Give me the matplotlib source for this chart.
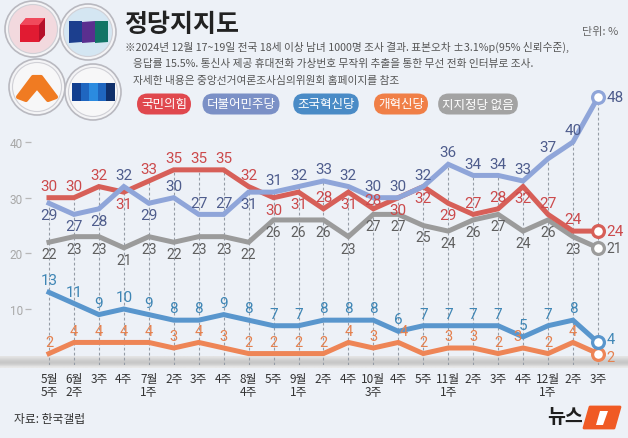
import matplotlib
matplotlib.use('Agg')
import matplotlib.pyplot as plt
import numpy as np
from matplotlib.patches import Circle, Polygon, Rectangle

plt.rcParams['font.family'] = ['Noto Sans CJK KR', 'DejaVu Sans']

# ---------------- data ----------------
weeks = ['5월\n5주', '6월\n2주', '3주', '4주', '7월\n1주', '2주', '3주', '4주',
         '8월\n4주', '5주', '9월\n1주', '2주', '4주', '10월\n3주', '4주', '5주',
         '11월\n1주', '2주', '3주', '4주', '12월\n1주', '2주', '3주']
parties = ['국민의힘', '더불어민주당', '조국혁신당', '개혁신당', '지지정당 없음']
ppp = [30, 30, 32, 31, 33, 35, 35, 35, 32, 30, 31, 28, 31, 28, 30, 32, 29, 27, 28, 32, 27, 24, 24]
dpk = [29, 27, 28, 32, 29, 30, 27, 27, 31, 31, 32, 33, 32, 30, 30, 32, 36, 34, 34, 33, 37, 40, 48]
rebuild = [13, 11, 9, 10, 9, 8, 8, 9, 8, 7, 7, 8, 8, 8, 6, 7, 7, 7, 7, 5, 7, 8, 4]
reform = [2, 4, 4, 4, 4, 3, 4, 3, 2, 2, 2, 2, 4, 3, 4, 2, 3, 3, 2, 3, 2, 4, 2]
no_party = [22, 23, 23, 21, 23, 22, 23, 23, 22, 26, 26, 26, 23, 27, 27, 25, 24, 26, 27, 24, 26, 23, 21]
yticks = [10, 20, 30, 40]

# label placement (1 above, -1 below, 0 right of end marker)
ppp_side = [1, 1, 1, -1, 1, 1, 1, 1, 1, -1, -1, 1, -1, 1, -1, -1, -1, 1, 1, -1, 1, 1, 0]
dpk_side = [-1, -1, -1, 1, -1, 1, 1, 1, -1, 1, 1, 1, 1, 1, 1, 1, 1, 1, 1, 1, 1, 1, 0]
n = len(weeks)
up_side = [1] * (n - 1) + [0]
down_side = [-1] * (n - 1) + [0]
# small nudges for crowded labels (points)
reform_dx = {14: 4, 19: -4}
ppp_dy = {13: 1.5}

BG = '#edf1f7'
W, H = 628, 439
fig = plt.figure(figsize=(W / 100, H / 100), dpi=100, facecolor=BG)

# decoration axes in pixel coordinates
deco = fig.add_axes([0, 0, 1, 1], zorder=0)
deco.set_xlim(0, W)
deco.set_ylim(H, 0)
deco.axis('off')

# bottom band (gradient)
grad = np.array([[0.89], [0.84], [0.79], [0.78], [0.83], [0.91]])
deco.imshow(np.repeat(grad, 2, axis=1), cmap='gray', vmin=0, vmax=1, aspect='auto',
            extent=(0, W, 369, 357), zorder=1, interpolation='bilinear')

# logos
def ring(cx, cy, inner):
    deco.add_patch(Circle((cx, cy), 28, facecolor='#f4f4f6', edgecolor='#b9b9c0', lw=1.2, zorder=2))
    deco.add_patch(Circle((cx, cy), 24.5, facecolor=inner, edgecolor='#d0d0d6', lw=0.8, zorder=2))

ring(33, 30, '#f2d9de')
deco.add_patch(Polygon([(20, 26), (26, 19), (45, 19), (45, 36), (39, 43), (20, 43)],
                       closed=True, facecolor='#e11b32', edgecolor='none', zorder=3))
deco.add_patch(Polygon([(20, 26), (26, 19), (45, 19), (39, 26)], closed=True,
                       facecolor='#f04a5c', edgecolor='none', zorder=4))
deco.add_patch(Polygon([(39, 26), (45, 19), (45, 36), (39, 43)], closed=True,
                       facecolor='#b5102a', edgecolor='none', zorder=4))

ring(88, 33, '#d4e6f2')
for k, c in enumerate(['#1c3f8e', '#5a2f8f', '#127566']):
    x0 = 69 + k * 13
    deco.add_patch(Polygon([(x0, 22 + (1 if k == 1 else 0)), (x0 + 13, 22), (x0 + 13, 43), (x0, 44)],
                           closed=True, facecolor=c, edgecolor='none', zorder=3))

ring(37, 88, '#f7f7f8')
deco.add_patch(Polygon([(18, 98), (33, 78), (41, 78), (56, 98), (48, 101), (37, 88), (26, 101)],
                       closed=True, facecolor='#f07b22', edgecolor='#f07b22', lw=3,
                       joinstyle='round', zorder=3))

ring(93, 93, '#f7f7f8')
for k, c in enumerate(['#123f8f', '#1f66c0', '#2b8be0', '#1f66c0', '#0f2f6a']):
    x0 = 72 + k * 8.6
    deco.add_patch(Rectangle((x0, 84), 8.6, 18, facecolor=c, edgecolor='none', zorder=3))

# title and notes
deco.text(124, 25, '정당지지도', fontsize=18, fontweight='bold', color='#222222',
          ha='left', va='center')
deco.text(618, 32, '단위: %', fontsize=8, color='#666666', ha='right', va='center')
notes = ['※2024년 12월 17~19일 전국 18세 이상 남녀 1000명 조사 결과. 표본오차 ±3.1%p(95% 신뢰수준),',
         '응답률 15.5%. 통신사 제공 휴대전화 가상번호 무작위 추출을 통한 무선 전화 인터뷰로 조사.',
         '자세한 내용은 중앙선거여론조사심의위원회 홈페이지를 참조']
for k, t in enumerate(notes):
    deco.text(125 if k == 0 else 133, 47 + 17 * k, t, fontsize=7.7, color='#555555',
              ha='left', va='center')

pill_colors = ['#e0484e', '#7b90c6', '#4a8bc6', '#f07f47', '#a3a3a3']
pill_x = [164, 241, 326, 401, 478]
for t, c, x in zip(parties, pill_colors, pill_x):
    deco.text(x, 105, t, fontsize=9, color='white', ha='center', va='center',
              bbox=dict(boxstyle='round,pad=0.32,rounding_size=0.85', facecolor=c, edgecolor='none'))

deco.text(14, 420, '자료: 한국갤럽', fontsize=8.5, color='#333333', ha='left', va='center')
deco.text(583, 418, '뉴스', fontsize=14, fontweight='bold', fontstyle='italic', color='#1e1e1e',
          ha='right', va='center')
deco.add_patch(Polygon([(590, 408), (620, 408), (614, 429), (584, 429)], closed=True,
                       facecolor='#f05a24', edgecolor='#f05a24', lw=2, joinstyle='round', zorder=3))
deco.add_patch(Polygon([(600, 412), (608, 412), (603, 426), (596, 426)], closed=True,
                       facecolor='white', edgecolor='none', zorder=4))

# ---------------- main chart ----------------
x0_px, dx_px = 49, 24.95
y0_px, dy_px = 365.7, 5.567
left_px, top_px = 31, 90
ax = fig.add_axes([left_px / W, (H - y0_px) / H, (W - left_px) / W, (y0_px - top_px) / H], zorder=2)
ax.set_facecolor('none')
ax.set_xlim((left_px - x0_px) / dx_px, (W - x0_px) / dx_px)
ax.set_ylim(0, (y0_px - top_px) / dy_px)
for s in ax.spines.values():
    s.set_visible(False)

x = np.arange(n)
all_series = [ppp, dpk, rebuild, reform, no_party]
tops = np.max(np.array(all_series), axis=0)
ax.vlines(x, 0, tops, colors='#959ca6', linestyles=(0, (2.5, 2)), lw=0.8, zorder=1)

# (values, line colour, text colour, label sides, font size, dx, dy, end-label dy, end font size)
series = [
    (no_party, '#9b9b9b', '#5f5f5f', down_side, 10, {}, {}, 0, 10),
    (reform, '#ee8556', '#e5814f', up_side, 10.5, reform_dx, {}, -2.5, 10.5),
    (rebuild, '#5996cd', '#3f86b5', up_side, 11, {}, {}, 2.5, 10.5),
    (ppp, '#d75f58', '#cc4a4c', ppp_side, 11, {}, ppp_dy, 0, 11),
    (dpk, '#8fa5d9', '#4f5d8d', dpk_side, 11, {}, {}, 0, 11),
]
for vals, lc, tc, side, fs, dxs, dys, end_dy, end_fs in series:
    ax.plot(x, vals, color=lc, lw=3.6, solid_joinstyle='miter', zorder=3, clip_on=False)
    ax.plot(x[-1], vals[-1], 'o', ms=8.5, mfc='white', mec=lc, mew=2.3, zorder=4, clip_on=False)
    for i, (v, s) in enumerate(zip(vals, side)):
        if s == 0:
            ax.annotate(str(v), (i, v), xytext=(6, end_dy), textcoords='offset points',
                        ha='left', va='center', fontsize=end_fs, color=tc, family='Roboto', zorder=5)
        else:
            ax.annotate(str(v), (i, v), xytext=(dxs.get(i, 0), dys.get(i, 3.5) * s),
                        textcoords='offset points',
                        ha='center', va='bottom' if s > 0 else 'top', fontsize=fs,
                        color=tc, family='Roboto', zorder=5)

ax.set_xticks(x)
ax.set_xticklabels(weeks, fontsize=8.5, color='#333333', linespacing=1.05)
ax.tick_params(axis='x', length=0, pad=5)
ax.set_yticks(yticks)
ax.set_yticklabels([str(v) for v in yticks], fontsize=8.5, color='#a8a8a8', family='Roboto')
ax.tick_params(axis='y', direction='out', length=4, width=0.9, color='#b8b8b8', pad=2)

fig.savefig('out.png', dpi=100, facecolor=BG)
